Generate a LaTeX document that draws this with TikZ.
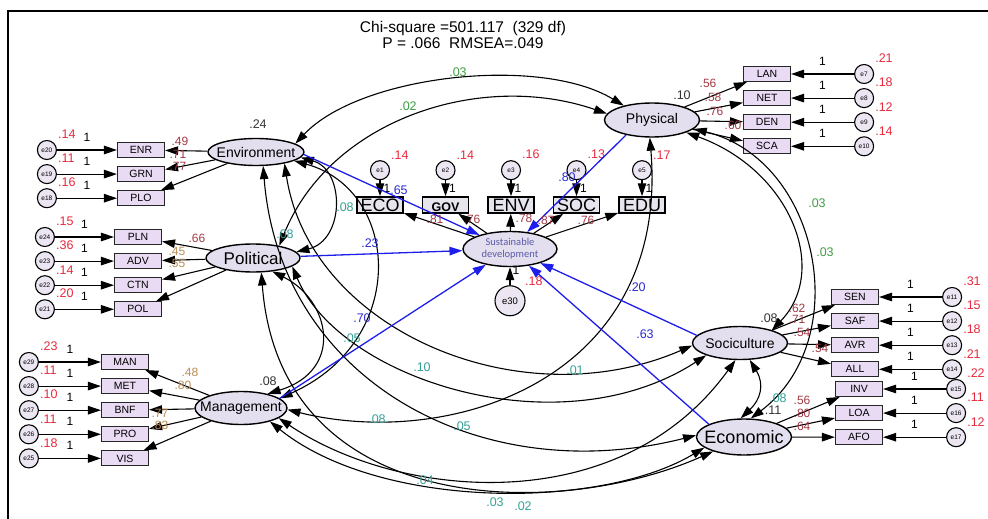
\documentclass[tikz,border=0pt]{standalone}
\usepackage{fontspec}
\setmainfont{Liberation Sans}
\newfontfamily\carlito{Carlito}
\usetikzlibrary{positioning,shapes.geometric,arrows.meta}
\usepackage{xcolor}
\definecolor{latentfill}{HTML}{E4DFEE}
\definecolor{indfill}{HTML}{EADBF5}
\definecolor{sdfill}{HTML}{E6E4EC}
\definecolor{errfill}{HTML}{ECE6F2}
\definecolor{varred}{HTML}{E8283C}
\definecolor{loadred}{HTML}{A23A44}
\definecolor{loadgold}{HTML}{B98C55}
\definecolor{pathblue}{HTML}{2A2AD0}
\definecolor{lineblue}{HTML}{1E1EEB}
\definecolor{covteal}{HTML}{35A095}
\definecolor{covgreen}{HTML}{3E9E40}
\definecolor{sdtext}{HTML}{5A5AAA}

\begin{document}
\begin{tikzpicture}[x=1pt, y=-1pt, line width=1.1pt,
>={Triangle[length=13pt,width=8.5pt]},
ellipsenode/.style={ellipse, draw=black, fill=latentfill, line width=1.4pt, inner sep=0pt},
squarednode/.style={rectangle, draw=black!85, fill=indfill, line width=1.1pt, minimum width=47pt, minimum height=15pt, inner sep=0pt, font=\fontsize{10.5}{11}\selectfont},
squarednodegray/.style={rectangle, draw=black, fill=sdfill, line width=1.5pt, minimum width=46pt, minimum height=16pt, inner sep=0pt, text height=12.5pt, text depth=0pt, font=\fontsize{18}{18}\selectfont},
circlenode/.style={circle, draw=black, fill=errfill, line width=1.1pt, minimum size=19pt, inner sep=0pt, font=\fontsize{6.5}{7}\selectfont},
bluepath/.style={draw=lineblue, line width=1.3pt},
varlabel/.style={text=varred, font=\fontsize{12.5}{13}\selectfont, inner sep=0pt, label distance=5pt},
onelabel/.style={font=\fontsize{12}{12}\selectfont, inner sep=0pt},
loadlabel/.style={text=loadred, font=\fontsize{12}{12}\selectfont, inner sep=0pt},
goldlabel/.style={text=loadgold, font=\fontsize{12}{12}\selectfont, inner sep=0pt},
bluelabel/.style={text=pathblue, font=\fontsize{12.5}{13}\selectfont, inner sep=0pt},
teallabel/.style={text=covteal, font=\fontsize{12.5}{13}\selectfont, inner sep=0pt},
greenlabel/.style={text=covgreen, font=\fontsize{12.5}{13}\selectfont, inner sep=0pt},
rlabel/.style={text=black!80, font=\fontsize{12.5}{13}\selectfont, inner sep=0pt},
]
\useasboundingbox (0,0) rectangle (988,519);
\draw[line width=2.2pt] (8,519) -- (8,11) -- (988,11);

%Nodes
\node[font=\fontsize{15.5}{15.5}\selectfont, align=center] (title) at (463,35) {Chi-square =501.117\ \ (329 df)\\P = .066\ \ RMSEA=.049};

%%% Latentes
\node[ellipsenode, minimum width=96pt, minimum height=27pt, font=\fontsize{14}{14}\selectfont] (environment) at (256,152) {\makebox[0pt]{Environment}};
\node[ellipsenode, minimum width=94pt, minimum height=28pt, font=\fontsize{17}{17}\selectfont] (political) at (253,258) {\makebox[0pt]{Political}};
\node[ellipsenode, minimum width=92pt, minimum height=33pt, font=\fontsize{14}{14}\selectfont] (management) at (241,408) {\makebox[0pt]{Management}};
\node[ellipsenode, minimum width=95pt, minimum height=34pt, font=\fontsize{14}{14}\selectfont] (physical) at (652,120) {\makebox[0pt]{Physical}};
\node[ellipsenode, minimum width=95pt, minimum height=33pt, font=\fontsize{14}{14}\selectfont] (sociculture) at (740,343) {\makebox[0pt]{Sociculture}};
\node[ellipsenode, minimum width=95pt, minimum height=36pt, font=\fontsize{18}{18}\selectfont] (economic) at (744,437) {\makebox[0pt]{Economic}};
\node[ellipsenode, minimum width=94pt, minimum height=35pt, text=sdtext, font=\carlito\fontsize{10.5}{12}\selectfont] (sustainable) at (510,249) {\makebox[0pt]{\raisebox{-3pt}[0pt][0pt]{\begin{tabular}{@{}c@{}}Sustainable\\development\end{tabular}}}};

%%% Indicadores Environment
\node[squarednode] (enr) at (141,150) {ENR};
\node[squarednode] (grn) [below=8pt of enr] {GRN};
\node[squarednode] (plo) [below=8pt of grn] {PLO};

%%% Indicadores Political
\node[squarednode] (pln) at (138,237) {PLN};
\node[squarednode] (adv) [below=8pt of pln] {ADV};
\node[squarednode] (ctn) [below=8pt of adv] {CTN};
\node[squarednode] (pol) [below=8pt of ctn] {POL};

%%% Indicadores Management
\node[squarednode] (man) at (125,362) {MAN};
\node[squarednode] (met) [below=8pt of man] {MET};
\node[squarednode] (bnf) [below=8pt of met] {BNF};
\node[squarednode] (pro) [below=8pt of bnf] {PRO};
\node[squarednode] (vis) [below=8pt of pro] {VIS};

%%% Indicadores Physical
\node[squarednode] (lan) at (767,74) {LAN};
\node[squarednode] (net) [below=8pt of lan] {NET};
\node[squarednode] (den) [below=8pt of net] {DEN};
\node[squarednode] (sca) [below=8pt of den] {SCA};

%%% Indicadores Sociculture
\node[squarednode] (sen) at (855,297) {SEN};
\node[squarednode] (saf) [below=8pt of sen] {SAF};
\node[squarednode] (avr) [below=8pt of saf] {AVR};
\node[squarednode] (all) [below=8pt of avr] {ALL};

%%% Indicadores Economic
\node[squarednode] (inv) at (859,389) {INV};
\node[squarednode] (loa) [below=8pt of inv] {LOA};
\node[squarednode] (afo) [below=8pt of loa] {AFO};

%%% Indicadores Sustainable development
\node[squarednodegray] (eco) at (380,205) {ECO};
\node[squarednodegray, font=\bfseries\fontsize{12.5}{12.5}\selectfont] (gov) [right=18pt of eco] {GOV};
\node[squarednodegray] (env) [right=18pt of gov] {ENV};
\node[squarednodegray] (soc) [right=18pt of env] {SOC};
\node[squarednodegray] (edu) [right=18pt of soc] {EDU};

%%% Errores
\node[circlenode, label={[varlabel]45:.14}] (e20) [left=60pt of enr] {e20};
\node[circlenode, label={[varlabel]45:.11}] (e19) [left=60pt of grn] {e19};
\node[circlenode, label={[varlabel]45:.16}] (e18) [left=60pt of plo] {e18};

\node[circlenode, label={[varlabel]45:.15}] (e24) [left=59pt of pln] {e24};
\node[circlenode, label={[varlabel]45:.36}] (e23) [left=59pt of adv] {e23};
\node[circlenode, label={[varlabel]45:.14}] (e22) [left=59pt of ctn] {e22};
\node[circlenode, label={[varlabel]45:.20}] (e21) [left=59pt of pol] {e21};

\node[circlenode, label={[varlabel]45:.23}] (e29) [left=62pt of man] {e29};
\node[circlenode, label={[varlabel]45:.11}] (e28) [left=62pt of met] {e28};
\node[circlenode, label={[varlabel]45:.10}] (e27) [left=62pt of bnf] {e27};
\node[circlenode, label={[varlabel]45:.11}] (e26) [left=62pt of pro] {e26};
\node[circlenode, label={[varlabel]45:.18}] (e25) [left=62pt of vis] {e25};

\node[circlenode, label={[varlabel]45:.21}] (e7) [right=63pt of lan] {e7};
\node[circlenode, label={[varlabel]45:.18}] (e8) [right=63pt of net] {e8};
\node[circlenode, label={[varlabel]45:.12}] (e9) [right=63pt of den] {e9};
\node[circlenode, label={[varlabel]45:.14}] (e10) [right=63pt of sca] {e10};

\node[circlenode, label={[varlabel]45:.31}] (e11) [right=63pt of sen] {e11};
\node[circlenode, label={[varlabel]45:.15}] (e12) [right=63pt of saf] {e12};
\node[circlenode, label={[varlabel]45:.18}] (e13) [right=63pt of avr] {e13};
\node[circlenode, label={[varlabel]45:.21}] (e14) [right=63pt of all] {e14};

\node[circlenode, label={[varlabel]45:.22}] (e15) [right=63pt of inv] {e15};
\node[circlenode, label={[varlabel]45:.11}] (e16) [right=63pt of loa] {e16};
\node[circlenode, label={[varlabel]45:.12}] (e17) [right=63pt of afo] {e17};

\node[circlenode, label={[varlabel]45:.14}] (e1) [above=16pt of eco] {e1};
\node[circlenode, label={[varlabel]45:.14}] (e2) [above=16pt of gov] {e2};
\node[circlenode, label={[varlabel]45:.16}] (e3) [above=16pt of env] {e3};
\node[circlenode, label={[varlabel]45:.13}] (e4) [above=16pt of soc] {e4};
\node[circlenode, label={[varlabel]45:.17}] (e5) [above=16pt of edu] {e5};
\node[circlenode, minimum size=30pt, font=\fontsize{9.5}{10}\selectfont, label={[varlabel]45:.18}] (e30) [below=18pt of sustainable] {e30};

%Lines
%%% Errores a indicadores
\draw[->] (e20) -- (enr) node[onelabel, midway, above=8pt] {1};
\draw[->] (e19) -- (grn) node[onelabel, midway, above=8pt] {1};
\draw[->] (e18) -- (plo) node[onelabel, midway, above=8pt] {1};
\draw[->] (e24) -- (pln) node[onelabel, midway, above=8pt] {1};
\draw[->] (e23) -- (adv) node[onelabel, midway, above=8pt] {1};
\draw[->] (e22) -- (ctn) node[onelabel, midway, above=8pt] {1};
\draw[->] (e21) -- (pol) node[onelabel, midway, above=8pt] {1};
\draw[->] (e29) -- (man) node[onelabel, midway, above=8pt] {1};
\draw[->] (e28) -- (met) node[onelabel, midway, above=8pt] {1};
\draw[->] (e27) -- (bnf) node[onelabel, midway, above=8pt] {1};
\draw[->] (e26) -- (pro) node[onelabel, midway, above=8pt] {1};
\draw[->] (e25) -- (vis) node[onelabel, midway, above=8pt] {1};
\draw[->] (e7) -- (lan) node[onelabel, midway, above=8pt] {1};
\draw[->] (e8) -- (net) node[onelabel, midway, above=8pt] {1};
\draw[->] (e9) -- (den) node[onelabel, midway, above=8pt] {1};
\draw[->] (e10) -- (sca) node[onelabel, midway, above=8pt] {1};
\draw[->] (e11) -- (sen) node[onelabel, midway, above=8pt] {1};
\draw[->] (e12) -- (saf) node[onelabel, midway, above=8pt] {1};
\draw[->] (e13) -- (avr) node[onelabel, midway, above=8pt] {1};
\draw[->] (e14) -- (all) node[onelabel, midway, above=8pt] {1};
\draw[->] (e15) -- (inv) node[onelabel, midway, above=8pt] {1};
\draw[->] (e16) -- (loa) node[onelabel, midway, above=8pt] {1};
\draw[->] (e17) -- (afo) node[onelabel, midway, above=8pt] {1};
\draw[->] (e1) -- (eco) node[onelabel, midway, right=3pt] {1};
\draw[->] (e2) -- (gov) node[onelabel, midway, right=3pt] {1};
\draw[->] (e3) -- (env) node[onelabel, midway, right=3pt] {1};
\draw[->] (e4) -- (soc) node[onelabel, midway, right=3pt] {1};
\draw[->] (e5) -- (edu) node[onelabel, midway, right=3pt] {1};
\draw[->] (e30) -- (sustainable) node[onelabel, pos=0.8, right=2pt] {1};

%%% Latentes a indicadores
\draw[->] (environment) -- (enr);
\draw[->] (environment) -- (grn);
\draw[->] (environment) -- (plo);
\draw[->] (political) -- (pln);
\draw[->] (political) -- (adv);
\draw[->] (political) -- (ctn);
\draw[->] (political) -- (pol);
\draw[->] (management) -- (man);
\draw[->] (management) -- (met);
\draw[->] (management) -- (bnf);
\draw[->] (management) -- (pro);
\draw[->] (management) -- (vis);
\draw[->] (physical) -- (lan);
\draw[->] (physical) -- (net);
\draw[->] (physical) -- (den);
\draw[->] (physical) -- (sca);
\draw[->] (sociculture) -- (sen);
\draw[->] (sociculture) -- (saf);
\draw[->] (sociculture) -- (avr);
\draw[->] (sociculture) -- (all);
\draw[->] (economic) -- (inv);
\draw[->] (economic) -- (loa);
\draw[->] (economic) -- (afo);
\draw[->] (sustainable) -- (eco);
\draw[->] (sustainable) -- (gov);
\draw[->] (sustainable) -- (env);
\draw[->] (sustainable) -- (soc);
\draw[->] (sustainable) -- (edu);

%%% Covarianzas
\draw[<->] (environment.12) .. controls (360,75) and (540,55) .. (physical.153);
\draw[<->] (physical.172) .. controls (480,70) and (330,120) .. (political.25);
\draw[<->] (environment.-7) .. controls (345,170) and (345,240) .. (political.8);
\draw[<->] (environment.-13) .. controls (400,190) and (410,340) .. (management.14);
\draw[<->] (political.-35) .. controls (330,300) and (345,370) .. (management.28);
\draw[<->] (management.-2) .. controls (450,450) and (670,380) .. (physical.-97);
\draw[<->] (environment.-22) .. controls (310,330) and (520,420) .. (sociculture.183);
\draw[<->] (environment.-63) .. controls (280,380) and (480,490) .. (economic.178);
\draw[<->] (political.-12) .. controls (340,380) and (560,450) .. (sociculture.200);
\draw[<->] (political.-60) .. controls (280,520) and (560,520) .. (economic.205);
\draw[<->] (management.-15) .. controls (400,500) and (620,520) .. (sociculture.-105);
\draw[<->] (management.-25) .. controls (380,510) and (600,510) .. (economic.195);
\draw[<->] (physical.-20) .. controls (790,170) and (830,270) .. (sociculture.22);
\draw[<->] (physical.-12) .. controls (820,160) and (855,340) .. (economic.70);
\draw[<->] (sociculture.-60) .. controls (765,385) and (760,400) .. (economic.100);

%%% Caminos a Sustainable development
\draw[->, bluepath] (environment.-3) -- (sustainable);
\draw[->, bluepath] (political) -- (sustainable);
\draw[->, bluepath] (management.14) -- (sustainable);
\draw[->, bluepath] (physical.210) -- (sustainable);
\draw[->, bluepath] (sociculture.170) -- (sustainable);
\draw[->, bluepath] (economic.160) -- (sustainable);

%Labels
%%% R cuadrado
\node[rlabel] (rEnv) at (258,124) {.24};
\node[rlabel] (rPhys) at (682,95) {.10};
\node[rlabel] (rMgmt) at (268,381) {.08};
\node[rlabel] (rSoc) at (769,318) {.08};
\node[rlabel] (rEco) at (773,410) {.11};

%%% Cargas
\node[loadlabel] (ldEnr) at (180,141) {.49};
\node[loadlabel] (ldGrn) at (178,154) {.71};
\node[loadlabel] (ldPlo) at (178,166) {.77};
\node[loadlabel] (ldPln) at (197,238) {.66};
\node[goldlabel] (ldAdv) at (177,251) {.45};
\node[goldlabel] (ldCtn) at (177,263) {.55};
\node[goldlabel] (ldMan) at (190,372) {.48};
\node[goldlabel] (ldMet) at (183,385) {.80};
\node[goldlabel] (ldBnf) at (160,413) {.77};
\node[goldlabel] (ldPro) at (160,425) {.83};
\node[loadlabel] (ldLan) at (708,83) {.56};
\node[loadlabel] (ldNet) at (713,97) {.58};
\node[loadlabel] (ldDen) at (715,111) {.76};
\node[loadlabel] (ldSca) at (733,125) {.60};
\node[loadlabel] (ldSen) at (797,308) {.62};
\node[loadlabel] (ldSaf) at (797,319) {.71};
\node[loadlabel] (ldAvr) at (802,332) {.54};
\node[loadlabel] (ldAll) at (820,348) {.54};
\node[loadlabel] (ldInv) at (802,400) {.56};
\node[loadlabel] (ldLoa) at (802,413) {.80};
\node[loadlabel] (ldAfo) at (802,426) {.64};
\node[loadlabel] (ldEco) at (435,219) {.81};
\node[loadlabel] (ldGov) at (472,219) {.76};
\node[loadlabel] (ldEnv) at (524,218) {.78};
\node[loadlabel] (ldSoc) at (546,220) {.87};
\node[loadlabel] (ldEdu) at (586,220) {.76};

%%% Coeficientes
\node[bluelabel] (bEnv) at (399,190) {.65};
\node[bluelabel] (bPhys) at (567,177) {.80};
\node[bluelabel] (bPol) at (370,243) {.23};
\node[bluelabel] (bMgmt) at (362,318) {.70};
\node[bluelabel] (bSoc) at (637,287) {.20};
\node[bluelabel] (bEco) at (645,334) {.63};

%%% Covarianzas
\node[greenlabel] (cEnvPhys) at (458,72) {.03};
\node[greenlabel] (cPhysPol) at (408,106) {.02};
\node[greenlabel] (cPhysSoc) at (817,203) {.03};
\node[greenlabel] (cPhysEco) at (825,252) {.03};
\node[teallabel] (cEnvPol) at (345,207) {.08};
\node[teallabel] (cPolA) at (285,234) {.08};
\node[teallabel] (cEnvMgmt) at (352,338) {.05};
\node[teallabel] (cEnvSoc) at (422,367) {.10};
\node[teallabel] (cPolSoc) at (575,370) {.01};
\node[teallabel] (cMgmtPhys) at (377,419) {.08};
\node[teallabel] (cEnvEco) at (462,426) {.05};
\node[teallabel] (cMgmtSoc) at (425,480) {.04};
\node[teallabel] (cMgmtEco) at (495,502) {.03};
\node[teallabel] (cPolEco) at (523,506) {.02};
\node[teallabel] (cSocEco) at (778,398) {.08};

\end{tikzpicture}
\end{document}
